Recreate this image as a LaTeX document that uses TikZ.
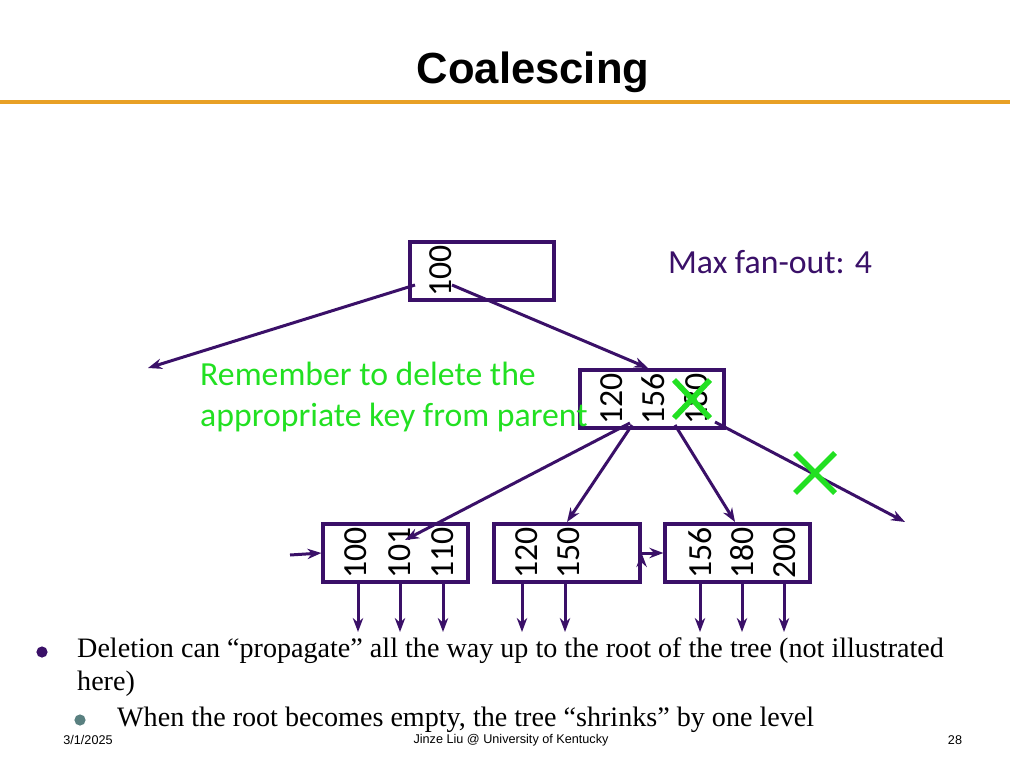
\documentclass[tikz,border=0pt]{standalone}
\usepackage{fontspec}
\setmainfont{Liberation Serif}
\newfontfamily\keyfont{Carlito}
\newfontfamily\headfont{Liberation Sans}
\usetikzlibrary{arrows.meta,positioning}
\definecolor{deep}{HTML}{3A1068}
\definecolor{barorange}{HTML}{E8A025}
\definecolor{mark}{HTML}{22E022}

\begin{document}
\begin{tikzpicture}[x=0.25mm,y=-0.25mm,
                    line width=1.1mm,
                    box node/.style={draw=deep,line width=0.8mm,minimum height=14.5mm,inner sep=0pt},
                    key node/.style={rotate=90,font=\keyfont\fontsize{24}{24}\selectfont,inner sep=0pt},
                    ptr/.style={draw=deep,line width=0.75mm,-{Stealth[length=3.5mm,width=2.6mm]}},
                    cross/.style={draw=mark,line width=1.4mm}]
  \useasboundingbox (0,0) rectangle (1024,768);

  % heading
  \node[font=\headfont\bfseries\fontsize{31}{31}\selectfont] (title) at (533,72) {Coalescing};
  \draw[barorange,line width=0.8mm] (0,102) -- (1010,102);

  % root
  \node[box node,minimum width=36mm] (root) at (482,271) {};
  \node[key node] (r1) at (441,271) {100};
  \node[font=\keyfont\fontsize{24}{24}\selectfont,text=deep] (fan) at (770,262) {Max fan-out: 4};

  % inner node
  \node[box node,minimum width=36mm] (mid) at (652,399) {};
  \node[key node] (m1) at (612,399) {120};
  \node[key node] (m2) at (653,399) {156};
  \node[key node] (m3) at (696,399) {180};
  \node[font=\keyfont\fontsize{24}{29}\selectfont,text=mark,align=left,anchor=west,inner sep=0pt] (note) at (198,397)
    {Remember to delete the\\appropriate key from parent};

  % leaves
  \node[box node,minimum width=36.25mm] (leafa) at (395.5,553) {};
  \node[key node] (a1) at (356,553) {100};
  \node[key node] (a2) at (400,553) {101};
  \node[key node] (a3) at (443,553) {110};
  \node[box node,minimum width=36.5mm] (leafb) at (567,553) {};
  \node[key node] (b1) at (527,553) {120};
  \node[key node] (b2) at (569,553) {150};
  \node[box node,minimum width=36.25mm] (leafc) at (737.5,553) {};
  \node[key node] (c1) at (700,553) {156};
  \node[key node] (c2) at (742,553) {180};
  \node[key node] (c3) at (785,553) {200};

  \coordinate (lfar) at (148,368);
  \coordinate (rfar) at (905,522);
  \coordinate (lin) at (290,555);

  % pointers
  \path[ptr]
    (415,285) edge (lfar)
    (452,285) edge (648,368)
    (630,423) edge (405,540)
    (632,425) edge (567,522)
    (675,425) edge (735,522)
    (715,422) edge (rfar)
    (lin) edge (leafa.west)
    (leafb.east) edge (leafc.west);
  \foreach \x in {358,400,443,522,565,700,742,784}
    \draw[ptr] (\x,582) -- (\x,632);

  % removed key and pointer
  \draw[cross] (674,380) -- (710,418) (710,380) -- (674,418);
  \draw[cross] (795,453) -- (835,493) (835,453) -- (795,493);

  % bullets
  \fill[deep] (42,652) circle (1.4mm);
  \node[anchor=west,font=\fontsize{20}{24}\selectfont,align=left,inner sep=0pt] (txt1) at (75,667)
    {Deletion can “propagate” all the way up to the root of the tree (not illustrated\\here)};
  \fill[gray!70!teal] (80,720) circle (1.4mm);
  \node[anchor=west,font=\fontsize{20}{24}\selectfont,inner sep=0pt] (txt2) at (115,720)
    {When the root becomes empty, the tree “shrinks” by one level};

  % footer
  \node[font=\headfont\fontsize{9}{9}\selectfont] (date) at (88,740) {3/1/2025};
  \node[font=\headfont\fontsize{9}{9}\selectfont] (who) at (511,740) {Jinze Liu @ University of Kentucky};
  \node[font=\headfont\fontsize{9}{9}\selectfont] (page) at (955,740) {28};
\end{tikzpicture}
\end{document}
